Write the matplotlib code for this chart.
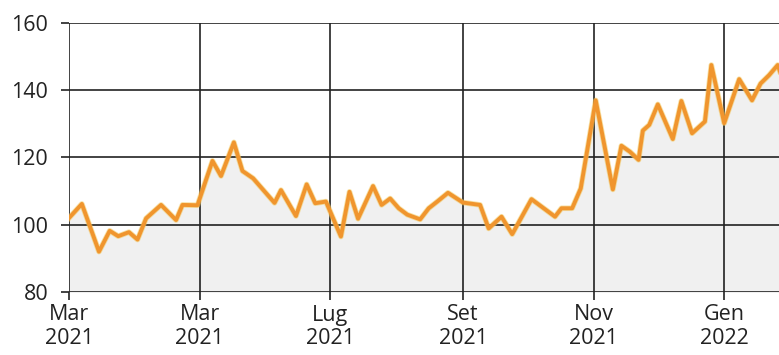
import numpy as np
from matplotlib import pyplot as plt

# days since 1 Mar 2021 and index values
days = [0, 6, 14, 19, 23, 28, 32, 36, 43, 50, 53, 60, 67, 71, 77, 81, 86, 96, 99,
        106, 111, 115, 120, 127, 131, 135, 142, 146, 150, 154, 158, 164, 168, 172,
        177, 184, 192, 196, 202, 207, 216, 227, 230, 235, 239, 246, 254, 258, 262,
        266, 268, 271, 275, 282, 286, 291, 297, 300, 306, 313, 319, 323, 327, 331, 334]
values = [102.0, 106.2, 92.0, 98.2, 96.6, 97.8, 95.6, 101.9, 105.9, 101.4, 105.9,
          105.8, 119.0, 114.5, 124.5, 116.0, 113.8, 106.5, 110.3, 102.6, 112.0,
          106.4, 106.9, 96.5, 109.8, 101.8, 111.5, 105.9, 107.8, 104.9, 103.0,
          101.6, 104.9, 106.9, 109.5, 106.6, 105.9, 98.9, 102.4, 97.2, 107.6,
          102.4, 104.9, 104.9, 110.8, 137.0, 110.5, 123.5, 121.7, 119.3, 128.0,
          129.7, 135.8, 125.5, 136.8, 127.2, 130.7, 147.5, 130.2, 143.3, 137.0,
          142.0, 144.5, 147.5, 142.0]

tick_days = [0, 61, 122, 184, 245, 306]
tick_labels = ['Mar\n2021', 'Mar\n2021', 'Lug\n2021', 'Set\n2021', 'Nov\n2021', 'Gen\n2022']
y_ticks = [80, 100, 120, 140, 160]

plt.rcParams['font.family'] = ['Open Sans', 'DejaVu Sans']

fig = plt.figure(figsize=(7.79, 3.55), dpi=100)
ax = fig.add_axes([69 / 779, 63 / 355, 710 / 779, 269 / 355])

x = np.array(days)
y = np.array(values)

#fill and line
ax.fill_between(x, y, 80, color='#f0f0f0', zorder=1)
ax.plot(x, y, color='#f2c85a', lw=4.0, alpha=0.55, zorder=3, solid_joinstyle='round')
ax.plot(x, y, color='#f0952e', lw=2.8, zorder=4, solid_joinstyle='round')

ax.set_xlim(0, 331.6)
ax.set_ylim(80, 160)
ax.set_xticks(tick_days)
ax.set_xticklabels(tick_labels, linespacing=1.15)
ax.set_yticks(y_ticks)

ax.grid(True, color='#222222', lw=1.2, zorder=2)
ax.set_axisbelow(False)
for s in ax.spines.values():
    s.set_visible(False)

ax.tick_params(axis='both', colors='#222222', labelcolor='#222222', labelsize=15.5,
               length=6, width=1.2)
ax.tick_params(axis='x', pad=3)
ax.tick_params(axis='y', pad=9)

fig.savefig('out.png', dpi=100)
